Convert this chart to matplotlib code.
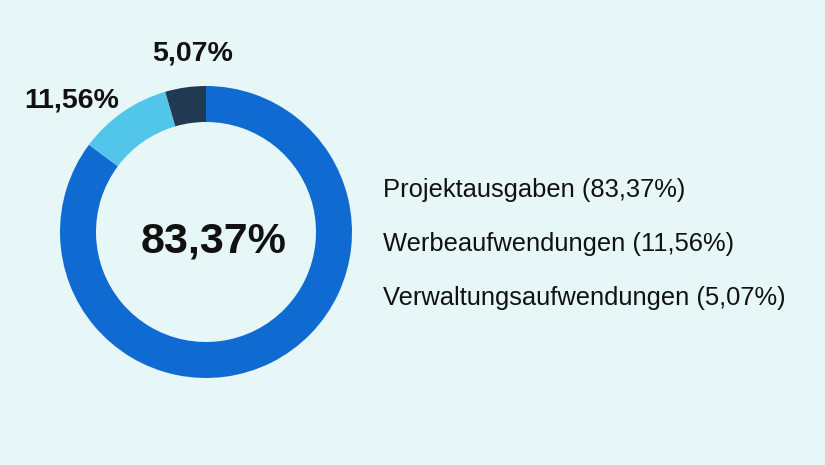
"""Donut chart of the expense split."""
import matplotlib

matplotlib.use("Agg")
import matplotlib.pyplot as plt

categories = ["Projektausgaben", "Werbeaufwendungen", "Verwaltungsaufwendungen"]
shares = [83.37, 11.56, 5.07]          # values printed in the labels
arc_shares = [85.2, 10.3, 4.5]         # arc sizes as drawn in the picture
colors = ["#0f6bd1", "#52c5ea", "#223a51"]
background = "#e7f7f8"


def fmt(value):
    return f"{value:.2f}".replace(".", ",") + "%"


plt.rcParams["font.family"] = ["Liberation Sans", "DejaVu Sans"]

W, H = 825, 465
fig = plt.figure(figsize=(W / 100, H / 100), dpi=100, facecolor=background)

# donut centre (206, 232) px, outer radius 146 px
cx, cy, r = 206, 232, 146
size = 3 * r
ax = fig.add_axes([(cx - size / 2) / W, (H - cy - size / 2) / H, size / W, size / H])
ax.set_facecolor(background)

wedges, _ = ax.pie(
    arc_shares,
    colors=colors,
    startangle=90,
    counterclock=False,
    radius=1.0,
    wedgeprops=dict(width=36 / r, linewidth=0),
)
ax.set_xlim(-1.5, 1.5)
ax.set_ylim(-1.5, 1.5)
ax.set_aspect("equal")
ax.axis("off")

# centre value
ax.text(0.055, -0.137, fmt(shares[0]), ha="center", va="baseline",
        fontsize=31, fontweight="bold", color="#111111")

# outer labels for the small slices
ax.text(-0.918, 0.856, fmt(shares[1]), ha="center", va="baseline",
        fontsize=20.5, fontweight="bold", color="#111111")
ax.text(-0.089, 1.178, fmt(shares[2]), ha="center", va="baseline",
        fontsize=20.5, fontweight="bold", color="#111111")

# text legend on the right
for i, (name, value) in enumerate(zip(categories, shares)):
    baseline = 197 + 54 * i
    fig.text(383 / W, 1 - baseline / H, f"{name} ({fmt(value)})",
             ha="left", va="baseline", fontsize=18.4, color="#111111")

fig.savefig("out.png", dpi=100, facecolor=background)
